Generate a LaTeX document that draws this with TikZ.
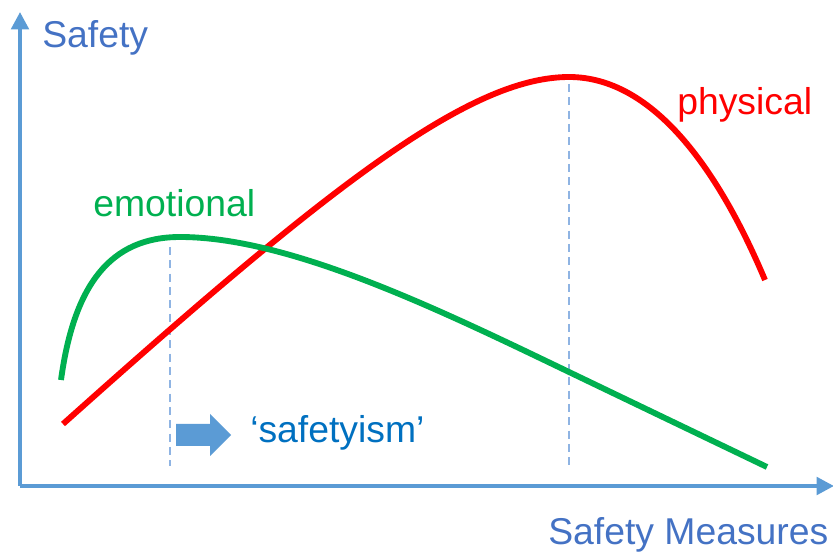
\documentclass[tikz,border=0pt]{standalone}
\usepackage{fontspec}
\setmainfont{Liberation Sans}
\usetikzlibrary{arrows.meta}
\definecolor{axisblue}{HTML}{5B9BD5}
\definecolor{labelblue}{HTML}{4472C4}
\definecolor{darkblue}{HTML}{0070C0}
\definecolor{mygreen}{HTML}{00B050}
\definecolor{dashblue}{HTML}{8FB4E3}
\tikzset{
  axisline/.style={draw=axisblue, line width=3pt, -{Triangle[length=13pt,width=13pt]}},
  lbl/.style={font=\fontsize{28}{32}\selectfont, inner sep=0pt, anchor=base west},
  curve/.style={line width=4.4pt},
  guide/.style={draw=dashblue, line width=0.8pt, dash pattern=on 6pt off 4pt},
  blockarrow/.style={fill=axisblue, draw=none},
}
\begin{document}
\begin{tikzpicture}[x=0.75pt,y=-0.75pt]
\useasboundingbox (0,0) rectangle (833,552);
% axes
\coordinate (O) at (20,486);
\coordinate (ytop) at (20,12);
\coordinate (xend) at (834,486);
\draw[axisline] (O) -- (ytop);
\draw[axisline] (O) -- (xend);
% guide lines
\coordinate (g1t) at (170,247);
\coordinate (g1b) at (170,466);
\coordinate (g2t) at (569,84);
\coordinate (g2b) at (569,466);
\draw[guide] (g1t) -- (g1b);
\draw[guide] (g2t) -- (g2b);
% red physical curve
\coordinate (r0) at (63,424);
\coordinate (rp) at (569,77);
\coordinate (r1) at (765,280);
\draw[curve, red] (r0) .. controls (330,185) and (470,77) .. (rp)
  .. controls (660,77) and (725,185) .. (r1);
% green emotional curve
\coordinate (e0) at (61,380);
\coordinate (ep) at (180,237);
\coordinate (em) at (569,372);
\coordinate (e1) at (767,467);
\draw[curve, mygreen] (e0) .. controls (74,285) and (110,237) .. (ep)
  .. controls (290,237) and (440,310) .. (em) -- (e1);
% block arrow
\fill[blockarrow] (176,424) -- (210,424) -- (210,414) -- (231,435)
  -- (210,456) -- (210,446) -- (176,446) -- cycle;
% labels
\node[lbl, text=labelblue] (ylabel) at (42,48) {Safety};
\node[lbl, text=labelblue] (xlabel) at (548,545) {Safety Measures};
\node[lbl, text=mygreen] (emo) at (93,217) {emotional};
\node[lbl, text=red] (phys) at (677,115) {physical};
\node[lbl, text=darkblue] (saf) at (250,443) {‘safetyism’};
\end{tikzpicture}
\end{document}
